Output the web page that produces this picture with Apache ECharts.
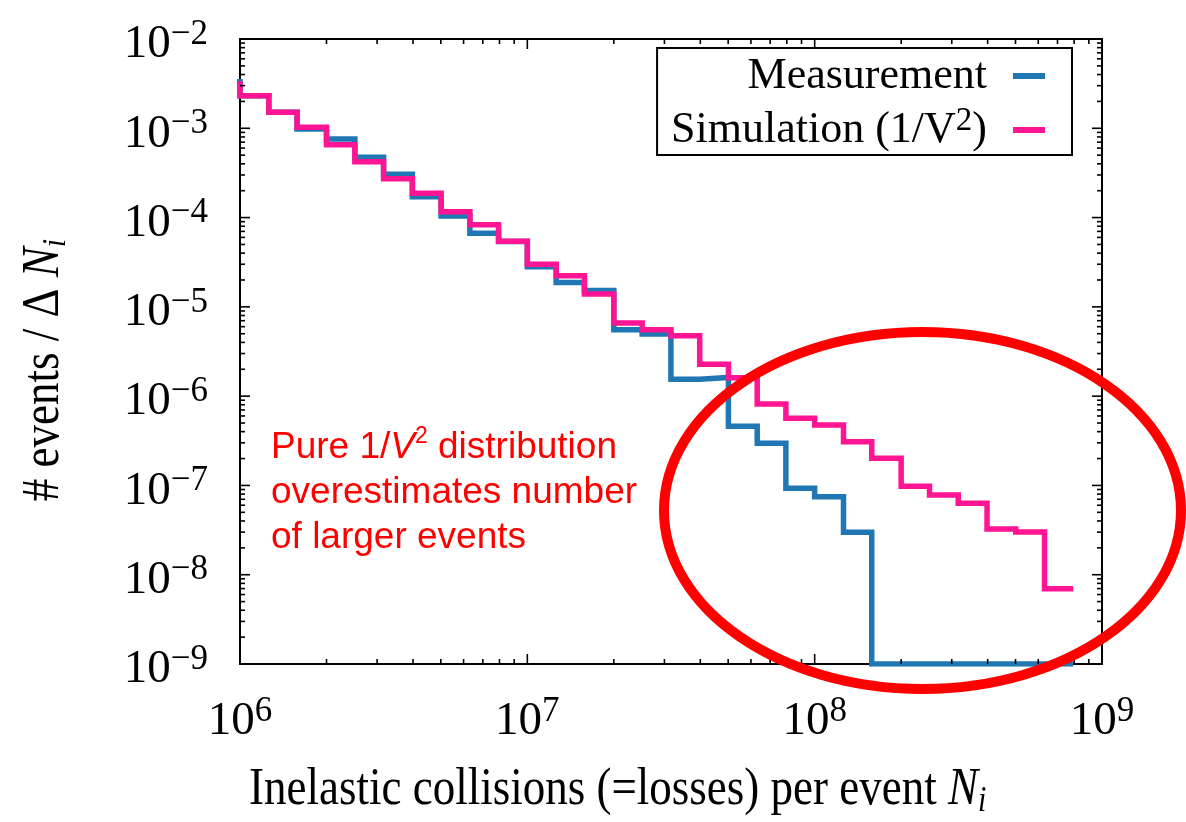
<!DOCTYPE html>
<html><head><meta charset="utf-8">
<script src="https://cdn.jsdelivr.net/npm/echarts@6/dist/echarts.min.js"></script>
<style>html,body{margin:0;padding:0;background:#fff}#c{width:1186px;height:822px}</style>
</head><body><div id="c"></div>
<script>
// Bin edges (log-spaced, 10 per decade); first entry lies just left of the plotted range
const binEdges = [7.94e5,
  1.00e6, 1.26e6, 1.58e6, 2.00e6, 2.51e6, 3.16e6, 3.98e6, 5.01e6, 6.31e6, 7.94e6,
  1.00e7, 1.26e7, 1.58e7, 2.00e7, 2.51e7, 3.16e7, 3.98e7, 5.01e7, 6.31e7, 7.94e7,
  1.00e8, 1.26e8, 1.58e8, 2.00e8, 2.51e8, 3.16e8, 3.98e8, 5.01e8, 6.31e8, 7.94e8];
const measurement = [3.33e-3,
  2.32e-3, 1.51e-3, 9.8e-4, 7.59e-4, 4.73e-4, 3.05e-4, 1.71e-4, 1.04e-4, 6.67e-5, 5.4e-5,
  2.82e-5, 1.87e-5, 1.52e-5, 5.55e-6, 4.96e-6, 1.55e-6, 1.62e-6, 4.59e-7, 2.96e-7, 9.29e-8,
  7.48e-8, 2.99e-8, 1e-9, 1e-9, 1e-9, 1e-9, 1e-9, 1e-9, 1e-9, 1e-9];
const simulation = [3.13e-3,
  2.32e-3, 1.51e-3, 1.03e-3, 6.55e-4, 4.22e-4, 2.72e-4, 1.87e-4, 1.16e-4, 8.32e-5, 5.42e-5,
  3.0e-5, 2.23e-5, 1.39e-5, 6.59e-6, 5.55e-6, 4.75e-6, 2.27e-6, 1.61e-6, 8.17e-7, 5.65e-7,
  4.75e-7, 3.09e-7, 2.01e-7, 9.77e-8, 7.81e-8, 6.31e-8, 3.25e-8, 3.01e-8, 6.98e-9, 6.98e-9];
const seriesNames = ['Measurement', 'Simulation (1/V\u00b2)'];
const xMajorTicks = [1e6, 1e7, 1e8, 1e9];
const yMajorTicks = [1e-9, 1e-8, 1e-7, 1e-6, 1e-5, 1e-4, 1e-3, 1e-2];
const minorMantissas = [2, 3, 4, 5, 6, 7, 8, 9];
const X_MIN = 1e6, X_MAX = 1e9, Y_MIN = 1e-9, Y_MAX = 1e-2;

const SERIF = '"Liberation Serif", "Times New Roman", serif';
const SANS = '"Liberation Sans", Arial, sans-serif';

// tick decoration items: [x, y, axis(0=x,1=y), major(1/0)]
const tickItems = [];
xMajorTicks.forEach(v => tickItems.push([v, Y_MIN, 0, 1]));
xMajorTicks.slice(0, -1).forEach(d => minorMantissas.forEach(m => tickItems.push([m * d, Y_MIN, 0, 0])));
yMajorTicks.forEach(v => tickItems.push([X_MIN, v, 1, 1]));
yMajorTicks.slice(0, -1).forEach(d => minorMantissas.forEach(m => tickItems.push([X_MIN, m * d, 1, 0])));

function expLabel(v) {
  const e = Math.round(Math.log10(v));
  return '{b|10}{s|' + (e < 0 ? '\u2212' + (-e) : e) + '}';
}
const labelRich = {
  b: { fontFamily: SERIF, fontSize: 47, lineHeight: 56, color: '#000' },
  s: { fontFamily: SERIF, fontSize: 35, lineHeight: 8, verticalAlign: 'top', color: '#000' }
};

const chart = echarts.init(document.getElementById('c'), null, { renderer: 'canvas' });
chart.setOption({
  animation: false,
  backgroundColor: '#fff',
  grid: { left: 240, right: 84, top: 39, bottom: 158, show: true, borderColor: '#000', borderWidth: 2 },
  xAxis: {
    type: 'log', logBase: 10, min: X_MIN, max: X_MAX,
    axisLine: { show: false }, axisTick: { show: false }, splitLine: { show: false },
    axisLabel: { margin: 30, formatter: expLabel, rich: labelRich }
  },
  yAxis: {
    type: 'log', logBase: 10, min: Y_MIN, max: Y_MAX,
    axisLine: { show: false }, axisTick: { show: false }, splitLine: { show: false },
    axisLabel: { margin: 32, formatter: expLabel, rich: labelRich, padding: [12, 0, 0, 0] }
  },
  legend: {
    orient: 'vertical', right: 114, top: 48, align: 'right',
    padding: [6, 27, 3, 14], itemGap: 7,
    itemWidth: 32, itemHeight: 6, icon: 'rect',
    borderColor: '#000', borderWidth: 2, backgroundColor: '#fff',
    data: seriesNames,
    formatter: function (name) {
      if (name === seriesNames[1]) return '{t|Simulation (1/V}{s|2}{t|)}';
      return '{t|' + name + '}';
    },
    textStyle: {
      fontFamily: SERIF, fontSize: 44, color: '#000', padding: [0, 21, 0, 0],
      rich: {
        t: { fontFamily: SERIF, fontSize: 44, lineHeight: 50, color: '#000' },
        s: { fontFamily: SERIF, fontSize: 33, lineHeight: 12, verticalAlign: 'top', color: '#000' }
      }
    }
  },
  series: [
    {
      type: 'line', name: seriesNames[0], color: '#1f77b4',
      data: binEdges.map((x, i) => [x, measurement[i]]),
      step: 'end', symbol: 'none', clip: true, z: 3,
      lineStyle: { color: '#1f77b4', width: 5.5, join: 'miter' }
    },
    {
      type: 'line', name: seriesNames[1], color: '#ff1493',
      data: binEdges.map((x, i) => [x, simulation[i]]),
      step: 'end', symbol: 'none', clip: true, z: 4,
      lineStyle: { color: '#ff1493', width: 5.5, join: 'miter' }
    },
    {
      type: 'custom', name: 'ticks', silent: true, z: 5,
      data: tickItems,
      renderItem: function (params, api) {
        const axis = api.value(2), len = api.value(3) ? 10 : 5;
        const st = { stroke: '#000', lineWidth: 1.6 };
        if (axis === 0) {
          const v = api.value(0);
          const pB = api.coord([v, Y_MIN]), pT = api.coord([v, Y_MAX]);
          return { type: 'group', children: [
            { type: 'line', shape: { x1: pB[0], y1: pB[1], x2: pB[0], y2: pB[1] - len }, style: st },
            { type: 'line', shape: { x1: pT[0], y1: pT[1], x2: pT[0], y2: pT[1] + len }, style: st }
          ]};
        } else {
          const v = api.value(1);
          const pL = api.coord([X_MIN, v]), pR = api.coord([X_MAX, v]);
          return { type: 'group', children: [
            { type: 'line', shape: { x1: pL[0], y1: pL[1], x2: pL[0] + len, y2: pL[1] }, style: st },
            { type: 'line', shape: { x1: pR[0], y1: pR[1], x2: pR[0] - len, y2: pR[1] }, style: st }
          ]};
        }
      }
    }
  ],
  graphic: [
    {
      type: 'text', x: 249, y: 790, scaleY: 1.18, silent: true,
      style: {
        text: '{t|Inelastic collisions (=losses) per event }{i|N}{u|i}',
        align: 'left', verticalAlign: 'middle',
        rich: {
          t: { fontFamily: SERIF, fontSize: 45, lineHeight: 50, fill: '#000' },
          i: { fontFamily: SERIF, fontSize: 45, lineHeight: 50, fontStyle: 'italic', fill: '#000' },
          u: { fontFamily: SERIF, fontSize: 30, lineHeight: 10, verticalAlign: 'bottom', fontStyle: 'italic', fill: '#000' }
        }
      }
    },
    {
      type: 'text', x: 44, y: 370, rotation: Math.PI / 2, scaleY: 1.15, silent: true,
      style: {
        text: '{t|# events / \u0394 }{i|N}{u|i}',
        align: 'center', verticalAlign: 'middle',
        rich: {
          t: { fontFamily: SERIF, fontSize: 45, lineHeight: 50, fill: '#000' },
          i: { fontFamily: SERIF, fontSize: 45, lineHeight: 50, fontStyle: 'italic', fill: '#000' },
          u: { fontFamily: SERIF, fontSize: 30, lineHeight: 10, verticalAlign: 'bottom', fontStyle: 'italic', fill: '#000' }
        }
      }
    },
    {
      type: 'text', x: 271, y: 425, silent: true,
      style: {
        text: '{a|Pure 1/}{v|V}{s|2}{a| distribution}\n{a|overestimates number}\n{a|of larger events}',
        align: 'left', verticalAlign: 'top',
        rich: {
          a: { fontFamily: SANS, fontSize: 37, lineHeight: 45, fill: '#ff0000' },
          v: { fontFamily: SANS, fontSize: 37, lineHeight: 45, fontStyle: 'italic', fill: '#ff0000' },
          s: { fontFamily: SANS, fontSize: 23, lineHeight: 33, verticalAlign: 'top', fill: '#ff0000' }
        }
      }
    },
    {
      type: 'ellipse', silent: true, z: 100,
      shape: { cx: 922.5, cy: 510.5, rx: 258.5, ry: 178.5 },
      style: { fill: 'none', stroke: '#ff0000', lineWidth: 10 }
    }
  ]
});
</script>
</body></html>
